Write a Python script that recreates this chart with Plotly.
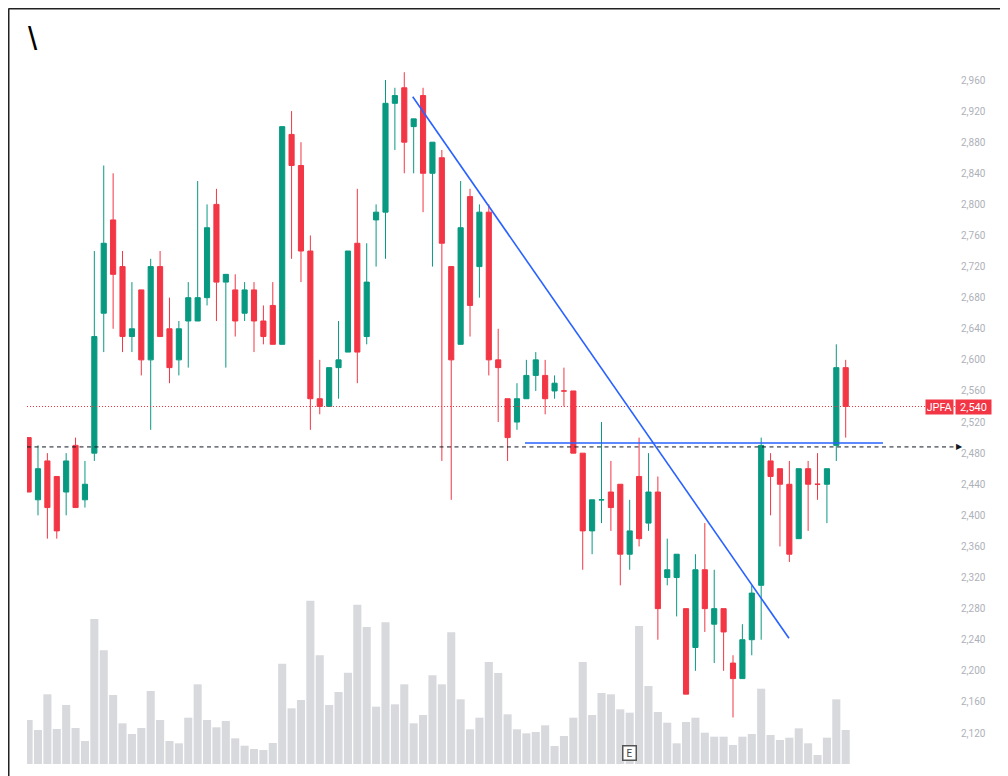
import plotly.graph_objects as go

# ---------------- data ----------------
days = list(range(1, 89))
opens = [2500, 2420, 2470, 2450, 2430, 2490, 2420, 2480, 2660, 2780,
         2720, 2630, 2690, 2600, 2720, 2640, 2600, 2650, 2650, 2680,
         2800, 2700, 2690, 2660, 2690, 2650, 2670, 2620, 2890, 2850,
         2740, 2550, 2540, 2590, 2610, 2750, 2630, 2780, 2790, 2930,
         2950, 2900, 2940, 2840, 2860, 2720, 2620, 2810, 2720, 2790,
         2600, 2550, 2520, 2550, 2580, 2580, 2560, 2560, 2560, 2480,
         2380, 2420, 2430, 2440, 2350, 2450, 2390, 2430, 2320, 2320,
         2280, 2230, 2330, 2260, 2280, 2210, 2190, 2240, 2310, 2470,
         2460, 2440, 2370, 2460, 2440, 2440, 2490, 2590]
highs = [2500, 2490, 2480, 2450, 2480, 2500, 2470, 2740, 2850, 2840,
         2740, 2700, 2690, 2730, 2740, 2680, 2650, 2700, 2830, 2800,
         2820, 2710, 2710, 2700, 2700, 2670, 2700, 2900, 2920, 2880,
         2760, 2600, 2590, 2650, 2740, 2820, 2750, 2800, 2960, 2950,
         2970, 2910, 2950, 2880, 2870, 2720, 2830, 2820, 2800, 2800,
         2640, 2550, 2570, 2600, 2610, 2600, 2580, 2590, 2560, 2480,
         2420, 2520, 2470, 2440, 2420, 2500, 2480, 2450, 2370, 2350,
         2280, 2350, 2390, 2330, 2280, 2220, 2260, 2310, 2500, 2480,
         2460, 2470, 2460, 2470, 2480, 2460, 2620, 2600]
lows = [2430, 2400, 2370, 2370, 2400, 2410, 2410, 2470, 2610, 2640,
        2610, 2610, 2580, 2510, 2630, 2570, 2580, 2590, 2650, 2670,
        2650, 2590, 2630, 2650, 2610, 2620, 2620, 2620, 2730, 2700,
        2510, 2530, 2540, 2550, 2610, 2570, 2620, 2720, 2730, 2870,
        2840, 2840, 2790, 2720, 2470, 2420, 2620, 2630, 2680, 2580,
        2520, 2470, 2510, 2550, 2560, 2530, 2550, 2540, 2480, 2330,
        2350, 2390, 2380, 2310, 2330, 2360, 2380, 2240, 2310, 2270,
        2170, 2200, 2250, 2210, 2200, 2140, 2190, 2220, 2240, 2400,
        2360, 2340, 2370, 2380, 2420, 2390, 2470, 2500]
closes = [2430, 2460, 2410, 2380, 2470, 2410, 2440, 2630, 2750, 2710,
          2630, 2640, 2600, 2720, 2630, 2590, 2640, 2680, 2680, 2770,
          2700, 2710, 2650, 2690, 2650, 2630, 2620, 2900, 2850, 2740,
          2550, 2540, 2590, 2600, 2740, 2610, 2700, 2790, 2930, 2940,
          2880, 2910, 2840, 2880, 2750, 2600, 2770, 2670, 2790, 2600,
          2590, 2500, 2550, 2580, 2600, 2550, 2570, 2560, 2480, 2380,
          2420, 2420, 2410, 2350, 2380, 2370, 2430, 2280, 2330, 2350,
          2170, 2330, 2280, 2280, 2250, 2190, 2240, 2300, 2490, 2450,
          2440, 2350, 2460, 2440, 2440, 2460, 2590, 2540]
volume_m = [13.2, 10.2, 20.9, 10.5, 17.7, 10.8, 6.9, 43.5, 34.1, 20.7,
            12.2, 9.0, 10.8, 21.9, 13.2, 6.9, 6.2, 13.9, 23.9, 13.2,
            11.0, 12.9, 7.7, 5.5, 4.5, 4.2, 6.3, 30.1, 16.7, 19.2,
            49.0, 32.6, 17.7, 21.6, 27.4, 47.8, 41.1, 17.2, 42.5, 17.9,
            23.9, 12.2, 14.7, 26.6, 23.9, 39.5, 19.4, 10.4, 13.9, 30.6,
            27.3, 14.9, 10.4, 9.2, 9.6, 11.6, 5.4, 8.4, 13.9, 30.6,
            14.7, 21.3, 20.9, 16.4, 15.4, 41.4, 23.4, 15.6, 12.4, 6.2,
            12.6, 13.9, 9.4, 8.2, 8.2, 5.7, 8.2, 9.0, 22.6, 8.7,
            7.2, 7.9, 10.7, 6.2, 2.7, 7.9, 19.4, 10.2]
price_ticks = list(range(2120, 2961, 40))
symbol = "JPFA"
last_price = 2540
ray_level = 2488
trend_days = [41.9, 81.96]
trend_prices = [2938.5, 2241.8]
neck_days = [53.85, 91.97]
neck_price = 2493
earnings_day = 65

# ---------------- styling ----------------
GREEN = "#089981"
RED = "#f23645"
VOL = "#d8d9dd"
BLUE = "#2962ff"

PAGE_OFF = 8                                # page body margin
W, H = 1008 - PAGE_OFF, 776 - PAGE_OFF
PL, PR, PT, PB = 27, 955, 10, 764          # plot area in page pixels
BAR0_PX, STEP_PX = 28.6, 9.392             # first candle centre / spacing
PX_PER_PRICE = 0.7774
Y_REF_PX, Y_REF_PRICE = 80, 2960
VOL_PX_PER_UNIT = 10 / 3


def px_x(p):
    return (p - PL) / (PR - PL)


def px_y(p):
    return (PB - p) / (PB - PT)


x_range = [1 + (PL - BAR0_PX) / STEP_PX, 1 + (PR - BAR0_PX) / STEP_PX]
y_range = [Y_REF_PRICE - (PB - Y_REF_PX) / PX_PER_PRICE,
           Y_REF_PRICE + (Y_REF_PX - PT) / PX_PER_PRICE]
vol_range = [0, (PB - PT) / VOL_PX_PER_UNIT]

fig = go.Figure()
fig.add_trace(go.Bar(x=days, y=volume_m, marker=dict(color=VOL, line=dict(width=0)),
                     width=0.86, yaxis="y", showlegend=False, hoverinfo="skip"))
fig.add_trace(go.Candlestick(
    x=days, open=opens, high=highs, low=lows, close=closes,
    increasing=dict(line=dict(color=GREEN, width=1), fillcolor=GREEN),
    decreasing=dict(line=dict(color=RED, width=1), fillcolor=RED),
    whiskerwidth=0, yaxis="y2", showlegend=False, name=symbol))

shapes = [
    dict(type="line", xref="paper", yref="y2", x0=0, x1=1, y0=last_price, y1=last_price,
         line=dict(color=RED, width=1, dash="1px,2px")),
    dict(type="line", xref="paper", yref="y2", x0=0, x1=1, y0=ray_level, y1=ray_level,
         line=dict(color="#131722", width=1, dash="4px,3.5px")),
    dict(type="line", xref="x", yref="y2", x0=trend_days[0], x1=trend_days[1],
         y0=trend_prices[0], y1=trend_prices[1], line=dict(color=BLUE, width=1.6)),
    dict(type="line", xref="x", yref="y2", x0=neck_days[0], x1=neck_days[1],
         y0=neck_price, y1=neck_price, line=dict(color=BLUE, width=1.6)),
    # frame (top and left edges)
    dict(type="line", xref="paper", yref="paper", x0=px_x(8.5), x1=px_x(1012),
         y0=px_y(8.5), y1=px_y(8.5), line=dict(color="#222222", width=2)),
    dict(type="line", xref="paper", yref="paper", x0=px_x(8.5), x1=px_x(8.5),
         y0=px_y(8.5), y1=px_y(790), line=dict(color="#222222", width=2)),
]

annotations = [
    dict(xref="paper", yref="y2", x=px_x(954), y=last_price, xanchor="right", yanchor="middle",
         text=symbol, showarrow=False, bgcolor=RED, width=25, height=12, borderpad=1,
         font=dict(family="Roboto", size=11, color="white")),
    dict(xref="paper", yref="y2", x=px_x(955), y=last_price, xanchor="left", yanchor="middle",
         text=f"{last_price:,}", showarrow=False, bgcolor=RED, width=33, height=12, borderpad=1,
         font=dict(family="Roboto", size=11, color="white")),
    dict(xref="paper", yref="y2", x=px_x(954), y=ray_level, xanchor="left", yanchor="middle",
         text="▶", showarrow=False, font=dict(family="DejaVu Sans", size=8, color="#131722")),
    dict(xref="x", yref="paper", x=earnings_day, y=px_y(753), xanchor="center", yanchor="middle",
         text="E", showarrow=False, bgcolor="white", bordercolor="#555555", borderwidth=1.5,
         borderpad=1, width=10, height=11, font=dict(family="Roboto", size=10, color="#444444")),
    dict(xref="paper", yref="paper", x=px_x(33), y=px_y(38), xanchor="center", yanchor="middle",
         text="\\", showarrow=False, font=dict(family="Liberation Sans", size=33, color="black")),
]

fig.update_layout(
    width=W, height=H,
    margin=dict(l=PL - PAGE_OFF, r=1008 - PR, t=PT - PAGE_OFF, b=776 - PB, pad=0),
    paper_bgcolor="white", plot_bgcolor="white",
    shapes=shapes, annotations=annotations,
    boxgap=0.22,
    xaxis=dict(range=x_range, visible=False, rangeslider=dict(visible=False), fixedrange=True),
    yaxis=dict(range=vol_range, visible=False, fixedrange=True),
    yaxis2=dict(range=y_range, overlaying="y", side="right", showgrid=False, zeroline=False,
                showline=False, ticks="", tickvals=price_ticks, tickformat=",d",
                ticklabelstandoff=5,
                tickfont=dict(family="Roboto", size=10, color="#aeb1b9")),
    font=dict(family="Roboto"),
    hovermode=False,
)

fig.write_html("out.html")
